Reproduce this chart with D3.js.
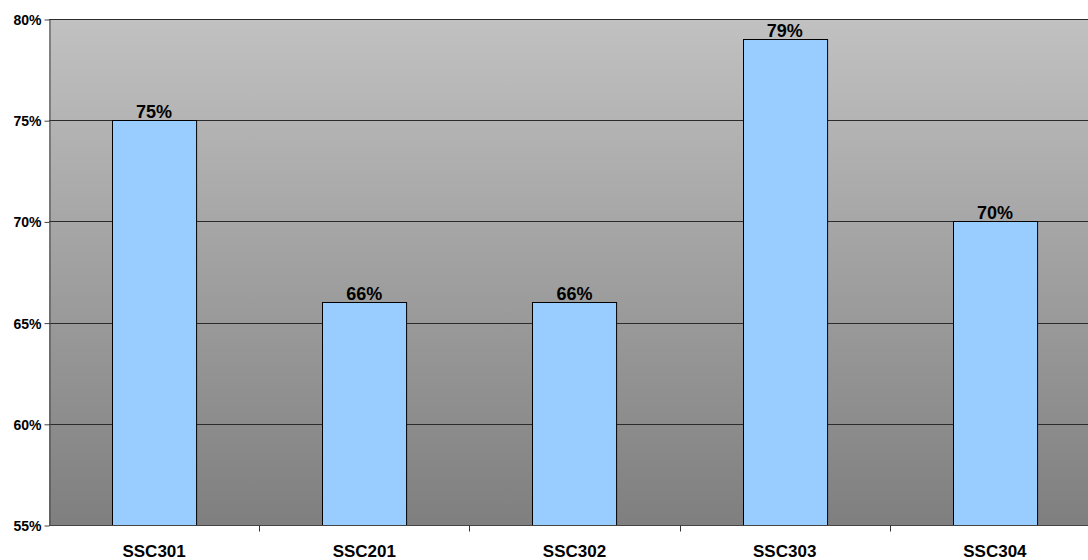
<!DOCTYPE html>
<html>
<head>
<meta charset="utf-8">
<script src="https://cdn.jsdelivr.net/npm/d3@7"></script>
<style>
  body { margin: 0; background: #fff; overflow: hidden; }
  text { font-family: "Liberation Sans", Arial, sans-serif; font-weight: bold; fill: #000; }
</style>
</head>
<body>
<div id="chart"></div>
<script>
// data
var courses = ["SSC301", "SSC201", "SSC302", "SSC303", "SSC304"];
var scores = [0.75, 0.66, 0.66, 0.79, 0.70];
var yTicks = [0.55, 0.60, 0.65, 0.70, 0.75, 0.80];

var width = 1088, height = 560;
var margin = {top: 19, bottom: 35, left: 49};
var plotRight = 1100; // plot runs past the right edge of the picture

var svg = d3.select("#chart").append("svg")
    .attr("width", width)
    .attr("height", height);

var x = d3.scaleBand()
    .domain(courses)
    .range([margin.left, plotRight])
    .paddingInner(0.6)
    .paddingOuter(0.3);

var y = d3.scaleLinear()
    .domain([0.55, 0.80])
    .range([height - margin.bottom, margin.top]);

// gray gradient background of plot area
var grad = svg.append("defs").append("linearGradient")
    .attr("id", "bg")
    .attr("x1", 0).attr("y1", 0).attr("x2", 0).attr("y2", 1);
grad.append("stop").attr("offset", "0%").attr("stop-color", "#c1c1c1");
grad.append("stop").attr("offset", "100%").attr("stop-color", "#7f7f7f");

svg.append("rect")
    .attr("x", margin.left)
    .attr("y", y(0.80))
    .attr("width", plotRight - margin.left)
    .attr("height", y(0.55) - y(0.80))
    .attr("fill", "url(#bg)");

// gridlines
svg.append("g").selectAll("line")
    .data(yTicks)
    .enter().append("line")
    .attr("x1", margin.left)
    .attr("x2", plotRight)
    .attr("y1", function(d) { return Math.round(y(d)) + 0.5; })
    .attr("y2", function(d) { return Math.round(y(d)) + 0.5; })
    .attr("stroke", "#2b2b2b")
    .attr("stroke-width", 1);

// bars
svg.append("g").selectAll("rect")
    .data(scores)
    .enter().append("rect")
    .attr("x", function(d, i) { return Math.round(x(courses[i])) + 0.5; })
    .attr("y", function(d) { return Math.round(y(d)) + 0.5; })
    .attr("width", x.bandwidth())
    .attr("height", function(d) { return Math.round(y(0.55)) - Math.round(y(d)); })
    .attr("fill", "#99ccff")
    .attr("stroke", "#000")
    .attr("stroke-width", 1);

// value labels
svg.append("g").selectAll("text")
    .data(scores)
    .enter().append("text")
    .attr("x", function(d, i) { return x(courses[i]) + x.bandwidth() / 2; })
    .attr("y", function(d) { return y(d) - 2; })
    .attr("text-anchor", "middle")
    .style("font-size", "18px")
    .text(function(d) { return Math.round(d * 100) + "%"; });

// y axis
var yAxis = d3.axisLeft(y)
    .tickValues(yTicks)
    .tickFormat(d3.format(".0%"))
    .tickSize(5)
    .tickSizeOuter(0);

var gy = svg.append("g")
    .attr("transform", "translate(" + (margin.left + 0.5) + ",0.5)")
    .call(yAxis);
gy.select(".domain").attr("stroke", "#444");
gy.selectAll(".tick line").attr("stroke", "#444");
gy.selectAll("text")
    .attr("x", -8)
    .attr("dy", "0.36em")
    .style("font-size", "14px")
    .style("font-family", "'Liberation Sans', Arial, sans-serif")
    .style("font-weight", "bold")
    .attr("fill", "#000");

// x axis: ticks sit between categories
var xb = d3.scaleLinear().domain([0, courses.length]).range([margin.left, plotRight]);
var gx = svg.append("g").attr("transform", "translate(0," + (Math.round(y(0.55)) + 0.5) + ")");
gx.append("line")
    .attr("x1", margin.left).attr("x2", plotRight)
    .attr("stroke", "#444");
gx.selectAll(".tk")
    .data(d3.range(1, courses.length))
    .enter().append("line")
    .attr("class", "tk")
    .attr("x1", function(d) { return Math.round(xb(d)) + 0.5; })
    .attr("x2", function(d) { return Math.round(xb(d)) + 0.5; })
    .attr("y1", 0).attr("y2", 6)
    .attr("stroke", "#333");
gx.selectAll("text")
    .data(courses)
    .enter().append("text")
    .attr("x", function(d) { return x(d) + x.bandwidth() / 2; })
    .attr("y", 31)
    .attr("text-anchor", "middle")
    .style("font-size", "17px")
    .text(function(d) { return d; });
</script>
</body>
</html>
